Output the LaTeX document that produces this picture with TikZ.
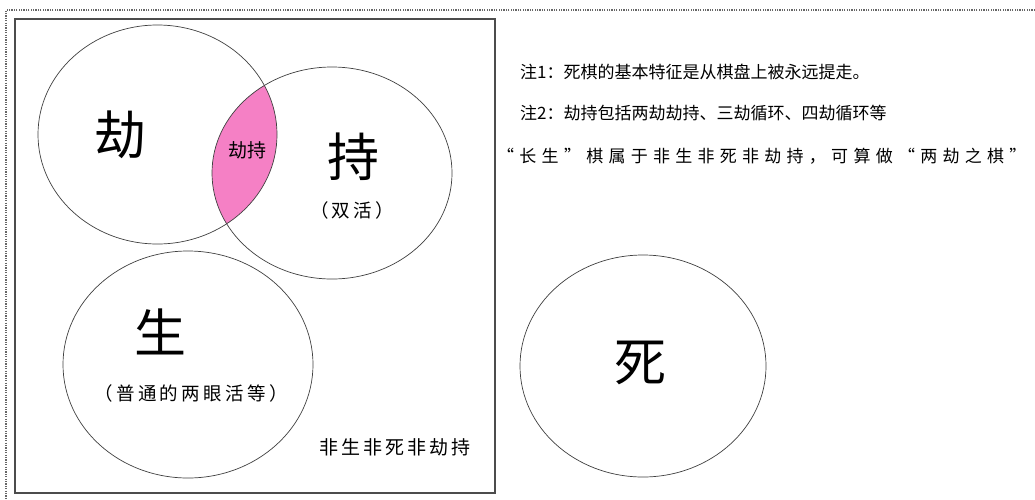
\documentclass[tikz,border=0pt]{standalone}
\usepackage{fontspec}
\newfontfamily\cjk{Noto Sans CJK SC}
\newfontfamily\cjklabel{Noto Sans CJK SC}[LetterSpace=18]
\newfontfamily\cjkfei{Noto Sans CJK SC}[LetterSpace=15]
\newfontfamily\cjkline{Noto Sans CJK SC}[LetterSpace=31]
\begin{document}
\begin{tikzpicture}[x=1pt,y=-1pt,
  ring/.style={draw=black!75,line width=0.7pt},
  big/.style={font=\cjk\fontsize{52}{52}\selectfont},
  small/.style={font=\cjklabel\fontsize{18.5}{18.5}\selectfont},
  note/.style={font=\cjk\fontsize{17}{17}\selectfont,anchor=west,inner sep=0pt}]
\useasboundingbox (0,0) rectangle (1035,499);
\fill[white] (0,0) rectangle (1035,499);
% dotted frame
\draw[black!60,line width=1.2pt,dash pattern=on 1.2pt off 1.2pt] (1035,10) -- (6,10) -- (6,499);
% inner frame
\draw[black!70,line width=1.2pt] (15,19) rectangle (495,493);
% intersection fill
\begin{scope}
  \clip (157.5,134.5) ellipse [x radius=119.5, y radius=109.5];
  \fill[magenta!50] (332,173) ellipse [x radius=120, y radius=106];
\end{scope}
\draw[ring] (157.5,134.5) ellipse [x radius=119.5, y radius=109.5];
\draw[ring] (332,173) ellipse [x radius=120, y radius=106];
\draw[ring] (188,364.5) ellipse [x radius=125, y radius=113.5];
\draw[ring] (643,366) ellipse [x radius=123, y radius=111];
% labels
\node[big] (jie) at (120,135) {劫};
\node[big] (chi) at (353,157) {持};
\node[small] (shuanghuo) at (352,210) {（双活）};
\node[font=\cjk\fontsize{19}{19}\selectfont] (jiechi) at (247,150) {劫持};
\node[big] (sheng) at (160,332) {生};
\node[small] (putong) at (191,393) {（普通的两眼活等）};
\node[big] (si) at (640,363) {死};
\node[font=\cjkfei\fontsize{19}{19}\selectfont] (fei) at (395,447) {非生非死非劫持};
% notes
\node[note] (n1) at (520,72) {注1：死棋的基本特征是从棋盘上被永远提走。};
\node[note] (n2) at (520,113) {注2：劫持包括两劫劫持、三劫循环、四劫循环等};
\node[note,font=\cjkline\fontsize{17}{17}\selectfont] (n3) at (497,156) {“长生”棋属于非生非死非劫持，可算做“两劫之棋”};
\end{tikzpicture}
\end{document}
